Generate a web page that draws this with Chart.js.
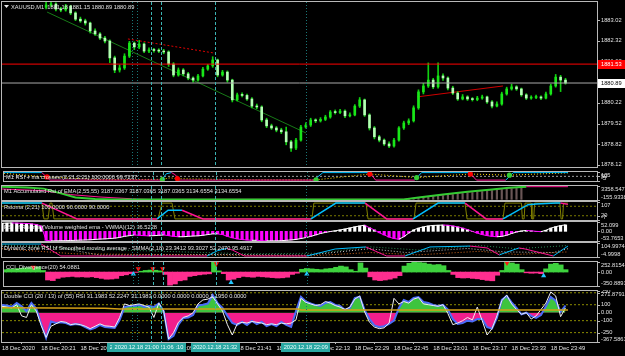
<!DOCTYPE html>
<html><head><meta charset="utf-8">
<script src="https://cdn.jsdelivr.net/npm/chart.js@4.4.1/dist/chart.umd.min.js"></script>
<style>
html,body{margin:0;padding:0;background:#000;overflow:hidden;}
#w{position:relative;width:625px;height:356px;background:#000;}
#w canvas{position:absolute;left:0;}
</style></head><body><div id="w"></div>
<script>
// ================= DATA =================
// time axis: minutes after 18 Dec 2020 20:05
const tickMinutes = [0,16,32,48,64,80,96,112,128,144,160,176,192,208,224];
const tickLabels = ["18 Dec 2020","18 Dec 20:21","18 Dec 20:37","18 Dec 20:53","18 Dec 21:09","18 Dec 21:25","18 Dec 21:41","18 Dec 21:57","18 Dec 22:13","18 Dec 22:29","18 Dec 22:45","18 Dec 23:01","18 Dec 23:17","18 Dec 23:33","18 Dec 23:49"];
const vLineMinutes = [53,55,61,65,87,124];
const vLineLabels = ["2020.12.18 20:58","2020.12.18 21:00","2020.12.18 21:06","2020.12.18 21:10","2020.12.18 21:32","2020.12.18 22:09"];

// price candles (2-minute steps, first visible candle at minute 18)
const firstCandleMinute = 18;
const firstOpen = 1883.45;
const closes = [1883.53,1883.56,1883.39,1883.36,1883.49,1883.26,1883.05,1882.99,1882.92,1882.65,
1882.55,1882.41,1882.31,1881.74,1881.33,1881.40,1881.80,1882.24,1882.11,1882.21,
1881.97,1882.01,1881.99,1881.97,1881.94,1881.53,1881.16,1881.33,1881.20,1881.06,
1880.99,1881.13,1881.36,1881.47,1881.67,1881.16,1881.26,1880.99,1880.32,1880.49,
1880.47,1880.35,1880.11,1880.08,1879.64,1879.44,1879.37,1879.30,1879.24,1878.90,
1878.69,1878.96,1879.40,1879.47,1879.64,1879.61,1879.66,1879.74,1879.91,1879.89,
1879.94,1879.78,1879.81,1880.11,1880.32,1879.81,1879.37,1879.07,1878.96,1878.83,
1878.76,1878.96,1879.37,1879.54,1879.61,1880.05,1880.59,1880.79,1880.99,1880.76,
1881.13,1881.06,1880.72,1880.55,1880.35,1880.42,1880.35,1880.33,1880.38,1880.42,
1880.25,1880.11,1880.18,1880.52,1880.69,1880.76,1880.69,1880.49,1880.38,1880.40,
1880.42,1880.38,1880.52,1880.79,1881.09,1880.99,1880.89];
const highs = [1883.62,1883.62,1883.60,1883.45,1883.55,1883.52,1883.30,1883.12,1883.05,1882.95,
1882.72,1882.60,1882.47,1882.35,1881.80,1881.50,1881.88,1882.30,1882.28,1882.33,
1882.25,1882.08,1882.06,1882.05,1882.03,1881.98,1881.58,1881.40,1881.38,1881.25,
1881.10,1881.18,1881.42,1881.52,1881.78,1881.70,1881.32,1881.30,1881.02,1880.55,
1880.56,1880.52,1880.40,1880.18,1880.12,1879.70,1879.50,1879.42,1879.36,1879.40,
1878.95,1879.02,1879.46,1879.55,1879.70,1879.68,1879.72,1879.80,1879.96,1879.98,
1880.00,1879.98,1879.88,1880.16,1880.40,1880.35,1879.85,1879.42,1879.12,1879.00,
1878.90,1879.02,1879.42,1879.60,1879.68,1880.12,1880.66,1880.88,1881.57,1881.05,
1881.57,1881.20,1881.10,1880.78,1880.60,1880.50,1880.46,1880.40,1880.44,1880.48,
1880.45,1880.30,1880.25,1880.58,1880.75,1880.85,1880.80,1880.72,1880.53,1880.46,
1880.48,1880.46,1880.58,1880.85,1881.18,1881.15,1881.05];
const lows = [1883.40,1883.47,1883.33,1883.30,1883.32,1883.20,1883.00,1882.94,1882.85,1882.58,
1882.50,1882.36,1882.25,1881.58,1881.24,1881.26,1881.35,1881.75,1882.02,1882.05,
1881.92,1881.92,1881.93,1881.92,1881.88,1881.45,1881.10,1881.12,1881.13,1881.00,
1880.92,1880.95,1881.10,1881.32,1881.42,1881.10,1881.12,1880.92,1880.25,1880.28,
1880.42,1880.30,1880.05,1880.02,1879.58,1879.38,1879.32,1879.24,1879.18,1878.80,
1878.58,1878.64,1878.92,1879.36,1879.42,1879.55,1879.57,1879.62,1879.70,1879.84,
1879.85,1879.72,1879.74,1879.78,1880.06,1879.76,1879.30,1879.00,1878.90,1878.78,
1878.70,1878.72,1878.92,1879.32,1879.48,1879.57,1880.00,1880.52,1880.74,1880.70,
1880.72,1880.98,1880.66,1880.50,1880.30,1880.32,1880.30,1880.28,1880.29,1880.34,
1880.20,1880.05,1880.08,1880.14,1880.48,1880.65,1880.64,1880.44,1880.33,1880.34,
1880.36,1880.33,1880.35,1880.48,1880.75,1880.60,1880.85];
const priceTicks = [1883.02,1882.32,1881.62,1880.92,1880.22,1879.52,1878.82,1878.12];
const resistanceLevel = 1881.53;
const bidLevel = 1880.89;
const trendGreen = [[18.4,1883.29],[124.1,1879.20]];
const trendRedDashed = [[51.4,1882.38],[86.9,1881.90]];
const trendRed = [[169.4,1880.42],[204.5,1880.79]];

// RSI + ma crosses  [minute, value]
const rsiLine = [[0,100],[15.5,100],[18.8,0],[64.5,0],[66.5,85],[68.6,100],[70.2,70],[71.5,0],[126.9,0],[130.6,100],[149.8,100],[152.2,0],[168.2,0],[171,100],[190.6,100],[193.5,0],[205.5,0],[208.6,100],[231,100]];
const rsiMa = [[0,90],[17.6,42],[40,5],[64.9,11],[68,30],[71,19],[101,3],[127.8,3],[149.8,81],[169,34],[191,81],[207,66],[231,97]];
const rsiCrossDown = [[17.6,42],[71,19],[149.8,81],[191,81]];
const rsiCrossUp = [[64.9,11],[127.8,3],[169,34],[207,66]];

// Accumulated RSI
const accGreen = [[0,3150],[10,3000],[17,2700],[24,1500],[30,500],[38,100],[45,0],[164,0],[170,500],[180,1200],[190,1900],[200,2500],[207,2900],[214,3187]];
const accMagenta = [[0,2600],[16.7,2200],[28,1200],[40,600],[55,80],[60,0],[164,0],[170,450],[180,1150],[190,1850],[200,2450],[207,2850],[214,3187],[231,3187]];
const accHist = [[166,60],[168,170],[170,310],[172,420],[174,570],[176,680],[178,830],[180,940],[182,1090],[184,1200],[186,1360],[188,1470],[190,1610],[192,1720],[194,1860],[196,1970],[198,2110],[200,2210],[202,2350],[204,2440],[206,2570],[208,2650],[210,2760],[212,2820]];

// Rsioma
const rsiomaLine = [[0,100],[16.3,100],[30.6,0],[63.3,0],[67.8,55],[73.5,55],[82,0],[126.1,0],[136.3,100],[148.2,100],[157,0],[167.8,0],[178,100],[189,100],[197.6,0],[204.5,0],[214.7,90],[218,95],[226,100],[228,100],[231,92]];
const rsiomaSignal = [[0,100],[16.3,100],[17.1,0],[18.8,0],[19.6,100],[20.4,100],[21.2,0],[63.7,0],[65.3,100],[69.4,100],[70.6,0],[126.5,0],[127.3,100],[148.6,100],[149.4,0],[168.2,0],[169,100],[189,100],[189.8,0],[204.5,0],[205.3,100],[212,100],[212.4,0],[213.1,0],[213.5,100],[216,100],[216.3,0],[217,0],[217.4,100],[227.7,100],[228.2,0],[228.8,0],[229.2,100],[231,100]];

// 2-minute grid values (minute = 2*k)
const vwma = [45,46,47,46,45,44,42,38,30,
-50,-53,-53,-52,-52,-51,-50,-49,-48,-47,
-45,-43,-42,-40,-38,-34,-28,-24,-20,
-22,-24,-25,-24,-22,-20,
-24,-28,-30,-30,-28,-26,-25,-22,
-18,-14,-14,-18,
-28,-36,-42,-46,-48,-50,-50,
-52,-53,-53,-53,-52,-50,-48,-45,-40,
-35,-28,-20,-12,-6,-1,
3,8,13,19,25,30,34,
20,8,-8,-20,-32,-40,-44,-30,
-10,8,18,25,30,33,34,35,34,
30,25,18,10,0,-10,-18,-24,-28,-30,-28,-22,-12,-4,2,5,3,0,-2,6,18,26,32,36];

// Dynamic zone RSI
const dzLine = [[0,97],[16,97],[24,3],[83.7,3],[88,45],[91.8,62],[94,50],[99,3],[124.5,3],[136,58],[148.5,74],[156,11],[157,3],[164.5,3],[174.7,74],[191,81],[198,66],[203,11],[205,26],[211,66],[213.5,58],[225,3],[231,81]];
const dzSignal = [[0,80],[20,80],[40,10],[90,15],[125,10],[150,60],[165,30],[190,62],[205,35],[225,30],[231,60]];
const dzLower = [[0,60],[30,20],[100,8],[125,3],[150,30],[170,12],[195,40],[210,15],[231,35]];
const dzUpper = [[0,90],[30,60],[100,20],[130,25],[150,75],[170,50],[195,85],[210,60],[231,85]];

// CCI divergence histogram (2-minute grid)
const cciDiv = [60,70,80,90,100,110,140,130,40,-200,
-215,-160,-130,-120,-110,-125,-120,-130,-120,-140,
-160,-180,-175,-160,-90,-70,-40,-10,20,40,
50,45,30,-60,-330,-300,-220,-200,-110,-90,
-70,-55,-45,250,30,-40,-200,-180,-140,-110,
-120,-130,-110,-120,-130,-140,-150,-145,-130,-60,
-30,70,90,80,70,60,80,90,120,150,
130,60,20,230,100,-120,-200,-215,-200,-180,
-150,-90,150,220,250,240,230,200,180,190,
160,40,-60,-140,-150,-145,-160,-170,-190,-210,
-220,-80,40,250,230,200,60,-20,-30,-25,
-40,80,200,220,180,60];
const divArrowsDown = [[12,123],[55,80],[61,80],[65,80],[87,209],[206,230]];
const divArrowsUp = [[53,-50],[93,-265],[124,-50],[221,-90]];

// Double CCI (2-minute grid)
const cciSlow = [97,90,75,122,80,20,122,50,-140,-318,
-110,-130,-120,-129,-154,-142,-150,-180,-210,-190,
-154,-180,-185,-192,-92,70,85,84,97,71,
84,71,115,20,-330,-290,-150,-66,-60,-30,
90,100,115,222,120,60,-40,-129,-154,-117,
-154,-104,-142,-117,-167,-142,-167,-117,-154,-179,
20,200,140,115,95,84,122,134,97,84,
34,59,184,200,34,-80,-160,-179,-170,-140,
-100,60,159,134,184,197,134,122,97,84,
97,40,-80,-142,-129,-100,-110,-80,-80,-180,
-200,-66,160,209,130,59,-20,0,-40,-66,
-30,80,197,150,10,90];
const cciFast = [80,70,60,100,-40,-60,100,20,-160,-310,
-170,-140,-110,-120,-150,-140,-150,-170,-200,-170,
-140,-165,-170,-180,-60,110,90,100,110,90,
70,-60,120,20,-330,-250,-120,-60,-40,0,
110,160,170,200,110,20,-150,-280,-140,-120,
-130,-110,-120,-130,-150,-140,-150,-130,-140,-130,
-90,180,130,110,90,100,140,120,90,70,
40,70,170,210,10,-120,-180,-200,-190,-130,
180,110,140,120,170,190,110,100,90,80,
100,-10,-150,-130,-100,-60,-90,70,-100,-280,
-200,-40,150,220,110,40,-20,0,-80,-40,
40,120,260,210,-50,60];
const cciSignal = [[0,62],[42,55],[48,45],[121,45],[122,35],[231,35]];
const cciLevels = [250,100,-100,-250];

// ================= STYLE / BUILD =================
const XMIN = 0, XMAX = 242.86;
const FONT = '5.7px "Liberation Sans", Arial, sans-serif';
const TXT = '#e2e2e2', BORDER = '#b9b9b9';
const CY = '#00bfff', BLUE = '#1e90ff', MG = '#ff1493', LIME = '#00ff00';
const V_COLORS = ['#1a7676','#1a7676','#3ab4b4','#3ab4b4','#3ab4b4','#1a7676'];
const V_DASH = [[1,2],[1,2],[3,2],[3,2],[3,2],[1,2]];

const gridMinute = k => 2 * k;
const P = arr => arr.map(p => ({x: p[0], y: p[1]}));
const G = vals => vals.map((v, k) => ({x: gridMinute(k), y: v}));
const H = v => [{x: XMIN, y: v}, {x: XMAX, y: v}];
function L(data, color, o) {
  return Object.assign({type: 'line', data, borderColor: color, borderWidth: 1, pointRadius: 0, fill: false, tension: 0, order: 1}, o || {});
}
const slope = (up, down, mid) => ({borderColor: c => {
  const a = c.p0.parsed.y, b = c.p1.parsed.y;
  return (b > a || (b === a && b > mid)) ? up : down;
}});

function drawTitle(ctx, a, text) {
  ctx.font = FONT; ctx.textBaseline = 'middle'; ctx.textAlign = 'left'; ctx.fillStyle = TXT;
  ctx.fillText(text, a.left + 2, a.top + 5);
}

function frame(o) {
  return {
    id: 'frame',
    beforeDatasetsDraw(chart) {
      if (o.titleUnder) drawTitle(chart.ctx, chart.chartArea, o.title);
    },
    afterDatasetsDraw(chart) {
      const ctx = chart.ctx, a = chart.chartArea, xs = chart.scales.x, ys = chart.scales.y;
      ctx.save();
      ctx.beginPath(); ctx.rect(a.left, a.top, a.right - a.left, a.bottom - a.top); ctx.clip();
      vLineMinutes.forEach((m, i) => {
        const x = Math.round(xs.getPixelForValue(m)) + 0.5;
        ctx.strokeStyle = V_COLORS[i]; ctx.lineWidth = 1; ctx.setLineDash(V_DASH[i]);
        ctx.beginPath(); ctx.moveTo(x, a.top); ctx.lineTo(x, a.bottom); ctx.stroke();
      });
      ctx.restore();
      ctx.save();
      if (o.title && !o.titleUnder) drawTitle(ctx, a, o.title);
      if (o.extra) o.extra(chart);
      ctx.setLineDash([]);
      ctx.strokeStyle = BORDER; ctx.lineWidth = 1;
      ctx.strokeRect(a.left - 0.5, a.top - 0.5, a.right - a.left + 1, a.bottom - a.top + 1);
      ctx.font = FONT; ctx.textBaseline = 'middle'; ctx.textAlign = 'left';
      (o.labels || []).forEach(l => {
        const py = ys.getPixelForValue(l.v);
        const ty = Math.min(Math.max(py, a.top + 3), a.bottom - 3) + (l.dy || 0);
        ctx.fillStyle = BORDER;
        if (py >= a.top && py <= a.bottom) ctx.fillRect(a.right + 1, Math.round(py), 2, 1);
        ctx.fillStyle = TXT;
        ctx.fillText(l.t, a.right + 4, ty);
      });
      ctx.restore();
    },
    afterDraw(chart) { if (o.afterAll) o.afterAll(chart); }
  };
}

const wrap = document.getElementById('w');
function panel(bt, bb, extraBottom, yMin, yMax, datasets, o) {
  const h = bb - bt + 1 + extraBottom;
  const c = document.createElement('canvas');
  c.width = 625; c.height = h; c.style.top = bt + 'px';
  c.style.width = '625px'; c.style.height = h + 'px';
  wrap.appendChild(c);
  const axis = extraBottom > 0;
  const x = axis ? {
    type: 'linear', min: XMIN, max: XMAX, offset: false, position: 'bottom',
    afterBuildTicks: s => { s.ticks = tickMinutes.map(v => ({value: v})); },
    afterFit: s => { s.height = extraBottom + 1; },
    grid: {display: true, drawOnChartArea: false, drawTicks: true, tickLength: 2, color: BORDER},
    border: {display: false},
    ticks: {color: TXT, font: {family: 'Liberation Sans', size: 5.8}, padding: 1, align: 'start',
      maxRotation: 0, minRotation: 0, autoSkip: false, callback: (v, i) => tickLabels[i]}
  } : {type: 'linear', display: false, min: XMIN, max: XMAX, offset: false};
  return new Chart(c, {
    type: 'bar',
    data: {datasets},
    options: {
      responsive: false, animation: false, devicePixelRatio: 1, events: [],
      layout: {padding: {left: 2, right: 28, top: 1, bottom: axis ? 0 : 1}},
      plugins: {legend: {display: false}, tooltip: {enabled: false}},
      scales: {x, y: {type: 'linear', display: false, min: yMin, max: yMax}}
    },
    plugins: [frame(o)]
  });
}

// ---- Panel 1: price ----
const candleMinute = closes.map((c, i) => firstCandleMinute + 2 * i);
const opens = closes.map((c, i) => i === 0 ? firstOpen : closes[i - 1]);
function priceBox(ctx, a, ys, v, txt, bg, fg) {
  const y = Math.round(ys.getPixelForValue(v));
  ctx.fillStyle = bg; ctx.fillRect(a.right + 1, y - 4, 27, 9);
  ctx.fillStyle = fg; ctx.font = FONT; ctx.textBaseline = 'middle'; ctx.textAlign = 'left';
  ctx.fillText(txt, a.right + 4, y + 0.5);
}
panel(1, 167, 0, 1878.05, 1883.63, [
  L(H(resistanceLevel), '#ff0000', {order: 0}),
  L(H(bidLevel), '#a9a9a9', {order: 0}),
  {type: 'bar', grouped: false, order: 4, barThickness: 2, minBarLength: 1, borderSkipped: false, borderWidth: 0,
   data: closes.map((c, i) => ({x: candleMinute[i], y: [opens[i], c]})),
   backgroundColor: closes.map((c, i) => c >= opens[i] ? '#19e619' : '#b4ffb4')},
  {type: 'bar', grouped: false, order: 5, barThickness: 1,
   data: closes.map((c, i) => ({x: candleMinute[i], y: [lows[i], highs[i]]})), backgroundColor: '#10d010'},
  L(P(trendGreen), '#177a17', {order: 6}),
  L(P(trendRedDashed), '#e00000', {order: 6, borderDash: [2, 2]}),
  L(P(trendRed), '#d00000', {order: 6})
], {
  labels: priceTicks.map(v => ({v, t: v.toFixed(2)})),
  extra(chart) {
    const ctx = chart.ctx;
    ctx.fillStyle = '#e8e8e8';
    ctx.beginPath(); ctx.moveTo(4, 4); ctx.lineTo(9, 4); ctx.lineTo(6.5, 7); ctx.closePath(); ctx.fill();
    ctx.font = FONT; ctx.textBaseline = 'middle'; ctx.textAlign = 'left'; ctx.fillStyle = TXT;
    ctx.fillText('XAUUSD,M1  1881.18 1881.15 1880.89 1880.89', 11, 6);
  },
  afterAll(chart) {
    const a = chart.chartArea, ys = chart.scales.y;
    priceBox(chart.ctx, a, ys, resistanceLevel, '1881.53', '#ff0000', '#ffffff');
    priceBox(chart.ctx, a, ys, bidLevel, '1880.89', '#ffffff', '#000000');
  }
});

// ---- Panel 2: RSI + ma crosses ----
panel(168, 184, 0, -12, 108, [
  L(H(50), '#9a9a9a', {borderDash: [2, 2], order: 9}),
  L(P(rsiMa), '#ffd700', {borderDash: [1, 2], order: 5}),
  L(P(rsiLine), CY, {segment: slope(CY, MG, 50), order: 3}),
  L(P(rsiCrossDown), '#ff0000', {showLine: false, pointRadius: 2.6, pointBackgroundColor: '#ff0000', pointBorderWidth: 0, order: 0}),
  L(P(rsiCrossUp), '#33cc33', {showLine: false, pointRadius: 2.6, pointBackgroundColor: '#33cc33', pointBorderWidth: 0, order: 0})
], {title: 'M1 RSI + ma crosses (2.21,2.21) 100.0000 99.7237',
  labels: [{v: 108, t: '105'}, {v: 50, t: '50'}, {v: -12, t: '-5'}]});

// ---- Panel 3: Accumulated RSI ----
panel(185, 200, 0, -155.9338, 3358.5478, [
  {type: 'bar', grouped: false, order: 6, barThickness: 1.5, data: P(accHist), backgroundColor: '#6a5656'},
  L(P(accMagenta), MG, {order: 4}),
  L(P(accGreen), '#32cd32', {borderWidth: 2, order: 2})
], {title: 'M1 Accumulated Rsi of EMA(2,55,55) 3187.0367 3187.0365 3187.0365 3134.6554 3134.6554',
  labels: [{v: 3358.5478, t: '3358.5478'}, {v: -155.9338, t: '-155.9338'}]});

// ---- Panel 4: Rsioma ----
panel(201, 220, 0, -7, 107, [
  L(H(80), '#7a7a00', {borderDash: [2, 2], order: 9}),
  L(H(20), '#7a7a00', {borderDash: [2, 2], order: 9}),
  L(P(rsiomaSignal), '#808000', {order: 5}),
  L(P(rsiomaLine), BLUE, {borderWidth: 1.5, segment: slope(CY, MG, 50), order: 2})
], {title: 'Rsioma (2,21) 100.0000 90.0000 90.0000',
  labels: [{v: 107, t: '107'}, {v: 20, t: '20'}, {v: -7, t: '-7'}]});

// ---- Panel 5: VWMA histogram ----
panel(221, 241, 0, -53.7653, 52.099, [
  {type: 'bar', grouped: false, order: 4, barThickness: 2.5, data: G(vwma),
   backgroundColor: vwma.map(v => v >= 0 ? '#ffffff' : '#ff00ff')},
  L(G(vwma), '#ffffff', {segment: slope('#ffffff', '#ff00ff', -1e9), order: 2})
], {title: 'RSI of Rsioma (Volume weighted ema - VWMA)(12) 36.5228', titleUnder: true,
  labels: [{v: 52.099, t: '52.099'}, {v: 0, t: '0.00'}, {v: -53.7653, t: '-53.7653'}]});

// ---- Panel 6: Dynamic zone RSI ----
panel(242, 257, 0, -5, 105, [
  L(P(dzUpper), '#2e8b57', {borderDash: [1, 2], order: 6}),
  L(P(dzLower), '#d2691e', {borderDash: [1, 2], order: 6}),
  L(P(dzSignal), '#c8c8c8', {borderDash: [1, 2], order: 6}),
  L(P(dzLine), CY, {segment: slope(CY, MG, 50), order: 2})
], {title: 'Dynamic zone RSI of Smoothed moving average - SMMA(2,18) 23.3412 93.3027 52.2470 95.4917',
  labels: [{v: 104.9974, t: '104.9974'}, {v: -4.9998, t: '-4.9998'}]});

// ---- Panel 7: CCI divergence ----
panel(258, 289, 0, -350.8891, 252.8154, [
  {type: 'bar', grouped: false, order: 4, barThickness: 5, data: G(cciDiv),
   backgroundColor: cciDiv.map(v => v >= 0 ? '#3ed23e' : '#ff2e90')},
  L(P(divArrowsDown), '#ff1010', {showLine: false, pointStyle: 'triangle', pointRotation: 180, pointRadius: 3, pointBackgroundColor: '#ff1010', pointBorderWidth: 0, order: 0}),
  L(P(divArrowsUp), '#22c8ff', {showLine: false, pointStyle: 'triangle', pointRadius: 3, pointBackgroundColor: '#22c8ff', pointBorderWidth: 0, order: 0})
], {title: 'CCI_Divergence(20) 54.0881',
  labels: [{v: 252.8154, t: '252.8154'}, {v: 0, t: '0.00'}, {v: -350.8891, t: '-350.8891'}]});

// ---- Panel 8: Double CCI + time axis ----
panel(290, 342, 13, -367.5861, 271.8791, [
  ...cciLevels.map(v => L(H(v), '#8c8c00', {borderDash: [2, 2], order: 9})),
  L(G(cciSlow), '#4a6cf7', {borderWidth: 2, order: 4, fill: {target: {value: 0}, above: '#3ec43e', below: '#f21e8c'}}),
  L(G(cciFast), '#f0f0f0', {order: 2}),
  L(P(cciSignal), '#d4a017', {borderWidth: 1.5, order: 1})
], {title: 'Double CCI (20 / 13) of (55) RSI 31.1983 52.2247 31.1983 0.0000 0.0000 0.0000 1.1950 0.0000',
  labels: [{v: 271.8791, t: '271.8791'}, {v: 250, t: '250', dy: -2.5}, {v: 100, t: '100'}, {v: 0, t: '0.00'},
           {v: -100, t: '-100'}, {v: -250, t: '-250'}, {v: -367.5861, t: '-367.5861'}],
  afterAll(chart) {
    const ctx = chart.ctx, a = chart.chartArea, xs = chart.scales.x;
    ctx.save();
    ctx.font = FONT; ctx.textBaseline = 'middle'; ctx.textAlign = 'center';
    [3, 2, 0, 1, 4, 5].forEach(i => {
      const x = xs.getPixelForValue(vLineMinutes[i]);
      const w = ctx.measureText(vLineLabels[i]).width + 5;
      ctx.fillStyle = '#2aa7a2';
      ctx.fillRect(Math.round(x - w / 2), a.bottom + 1, Math.round(w), 9);
      ctx.fillStyle = '#eaffff';
      ctx.fillText(vLineLabels[i], x, a.bottom + 5.5);
    });
    ctx.restore();
  }
});
</script></body></html>
